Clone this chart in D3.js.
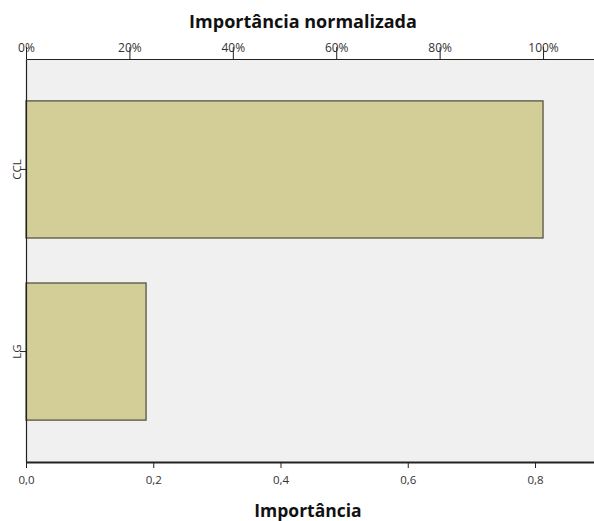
<!DOCTYPE html>
<html><head><meta charset="utf-8">
<script src="https://cdn.jsdelivr.net/npm/d3@7/dist/d3.min.js"></script>
<style>body{margin:0;background:#fff}svg{display:block}</style>
</head><body>
<script>
const categories = ["CCL", "LG"];
const importance = [0.8126, 0.1887];
const bottomTicks = [0, 0.2, 0.4, 0.6, 0.8];
const bottomTickLabels = ["0,0", "0,2", "0,4", "0,6", "0,8"];
const topTicks = [0, 20, 40, 60, 80, 100];
const topTickLabels = ["0%", "20%", "40%", "60%", "80%", "100%"];
const xMax = 0.8927;

const W = 594, H = 521;
const m = {left: 26, right: 594, top: 59, bottom: 462};
const svg = d3.select("body").append("svg").attr("width", W).attr("height", H);
const font = "'Open Sans', 'DejaVu Sans', sans-serif";

const x = d3.scaleLinear().domain([0, xMax]).range([m.left, m.right]);
const maxImp = d3.max(importance);
const xTop = d3.scaleLinear().domain([0, 100 * xMax / maxImp]).range([m.left, m.right]);
const y = d3.scaleBand().domain(categories).range([m.top, m.bottom]).paddingInner(0.247).paddingOuter(0.23);

svg.append("rect").attr("x", m.left).attr("y", m.top).attr("width", m.right - m.left).attr("height", m.bottom - m.top).attr("fill", "#f0f0f0");

svg.selectAll(".bar").data(categories).enter().append("rect")
  .attr("x", x(0)).attr("y", d => y(d))
  .attr("width", (d, i) => x(importance[i]) - x(0))
  .attr("height", y.bandwidth())
  .attr("fill", "#d3ce98").attr("stroke", "#4a4a3a").attr("stroke-width", 1.2);

// bottom axis
const bAxis = d3.axisBottom(x).tickValues(bottomTicks).tickSize(6).tickSizeOuter(0)
  .tickFormat((d, i) => bottomTickLabels[i]);
const gb = svg.append("g").attr("transform", `translate(0,${m.bottom})`).call(bAxis);
gb.select(".domain").attr("stroke", "#222").attr("stroke-width", 2);
gb.selectAll(".tick line").attr("stroke", "#222");
gb.selectAll("text").attr("font-family", font).attr("font-size", 11.5).attr("fill", "#333").attr("y", 22).attr("dy", "0");

// top axis
const tAxis = d3.axisTop(xTop).tickValues(topTicks).tickSize(12).tickSizeOuter(0)
  .tickFormat((d, i) => topTickLabels[i]);
const gt = svg.append("g").attr("transform", `translate(0,${m.top})`).call(tAxis);
gt.select(".domain").attr("stroke", "#222").attr("stroke-width", 1.2);
gt.selectAll(".tick line").attr("stroke", "#222");
gt.selectAll("text").attr("font-family", font).attr("font-size", 12).attr("fill", "#333").attr("y", -7).attr("dy", "0");

// left axis
const lAxis = d3.axisLeft(y).tickSize(6).tickSizeOuter(0);
const gl = svg.append("g").attr("transform", `translate(${m.left},0)`).call(lAxis);
gl.select(".domain").attr("stroke", "#222").attr("stroke-width", 1.2);
gl.selectAll(".tick line").attr("stroke", "#222");
gl.selectAll("text").attr("font-family", font).attr("font-size", 11.5).attr("fill", "#333")
  .attr("transform", "rotate(-90)").attr("x", 0).attr("y", -5).attr("dy", "0").attr("text-anchor", "middle");

svg.append("text").attr("x", 303).attr("y", 28).attr("text-anchor", "middle")
  .attr("font-family", font).attr("font-weight", "bold").attr("font-size", 18).attr("fill", "#111")
  .text("Importância normalizada");
svg.append("text").attr("x", 308).attr("y", 517).attr("text-anchor", "middle")
  .attr("font-family", font).attr("font-weight", "bold").attr("font-size", 17.5).attr("fill", "#111")
  .text("Importância");
</script>
</body></html>
